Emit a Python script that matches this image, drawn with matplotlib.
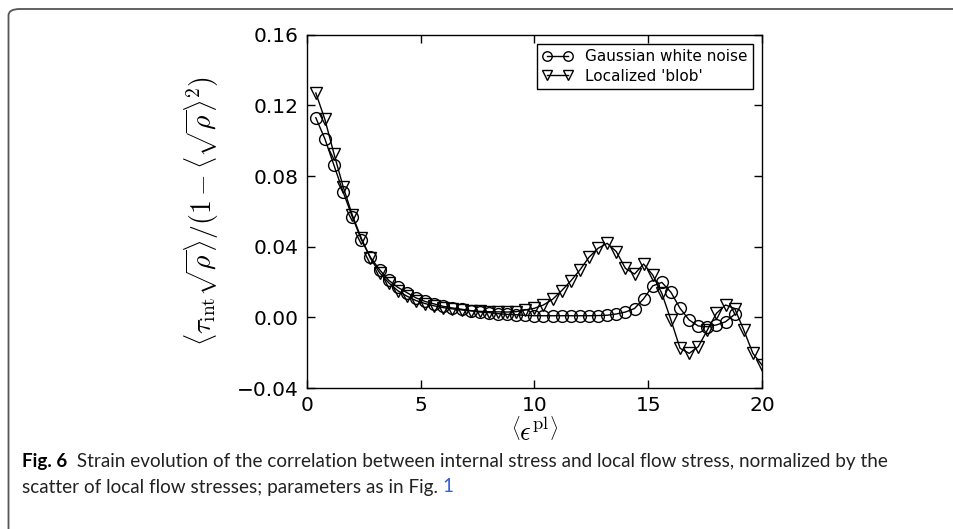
import matplotlib
matplotlib.use("Agg")
import matplotlib.pyplot as plt
from matplotlib import font_manager
from matplotlib.patches import FancyBboxPatch
import numpy as np

# ---------------- data ----------------
x_gauss = [0.4, 0.8, 1.2, 1.6, 2.0, 2.4, 2.8, 3.2, 3.6, 4.0,
           4.4, 4.8, 5.2, 5.6, 6.0, 6.4, 6.8, 7.2, 7.6, 8.0,
           8.4, 8.8, 9.2, 9.6, 10.0, 10.4, 10.8, 11.2, 11.6, 12.0,
           12.4, 12.8, 13.2, 13.6, 14.0, 14.4, 14.8, 15.2, 15.6, 16.0,
           16.4, 16.8, 17.2, 17.6, 18.0, 18.4, 18.8]
y_gauss = [0.113, 0.101, 0.086, 0.071, 0.057, 0.044, 0.034, 0.027, 0.021, 0.017,
           0.014, 0.011, 0.009, 0.0076, 0.0062, 0.0053, 0.0046, 0.0038, 0.0030, 0.0027,
           0.0021, 0.0017, 0.0015, 0.0011, 0.0009, 0.0009, 0.0009, 0.0009, 0.0009, 0.0009,
           0.0009, 0.0010, 0.0012, 0.0019, 0.0030, 0.0050, 0.0105, 0.0178, 0.0198, 0.0142,
           0.0051, -0.0015, -0.0049, -0.0053, -0.0043, -0.0025, 0.0017]

x_blob = [0.4, 0.8, 1.2, 1.6, 2.0, 2.4, 2.8, 3.2, 3.6, 4.0,
          4.4, 4.8, 5.2, 5.6, 6.0, 6.4, 6.8, 7.2, 7.6, 8.0,
          8.4, 8.8, 9.2, 9.6, 10.0, 10.4, 10.8, 11.2, 11.6, 12.0,
          12.4, 12.8, 13.2, 13.6, 14.0, 14.4, 14.8, 15.2, 15.6, 16.0,
          16.4, 16.8, 17.2, 17.6, 18.0, 18.4, 18.8, 19.2, 19.6, 20.0]
y_blob = [0.127, 0.112, 0.0925, 0.074, 0.058, 0.0447, 0.0334, 0.0253, 0.0196, 0.0151,
          0.012, 0.0095, 0.0078, 0.0065, 0.0055, 0.0048, 0.0042, 0.0037, 0.0034, 0.0032,
          0.0031, 0.0030, 0.0032, 0.0042, 0.0051, 0.0070, 0.0102, 0.0151, 0.0206, 0.0268,
          0.0340, 0.0391, 0.0419, 0.0372, 0.0277, 0.0245, 0.0302, 0.0240, 0.0136, -0.0015,
          -0.0175, -0.0204, -0.0166, -0.0072, 0.0023, 0.0070, 0.0050, -0.0072, -0.0204, -0.027]

label_gauss = "Gaussian white noise"
label_blob = "Localized 'blob'"

x_ticks = [0, 5, 10, 15, 20]
x_ticklabels = ["0", "5", "10", "15", "20"]
y_ticks = [-0.04, 0.0, 0.04, 0.08, 0.12, 0.16]
y_ticklabels = ["\u22120.04", "0.00", "0.04", "0.08", "0.12", "0.16"]

xlabel = r"$\left\langle\epsilon^{\rm pl}\right\rangle$"
ylabel = r"$\left\langle\tau_{\rm int}\sqrt{\rho}\right\rangle/(1-\left\langle\sqrt{\rho}\right\rangle^2)$"

caption_bold = "Fig. 6"
caption_line1 = "  Strain evolution of the correlation between internal stress and local flow stress, normalized by the"
caption_line2 = "scatter of local flow stresses; parameters as in Fig. "
caption_link = "1"

# ---------------- figure ----------------
plt.rcParams["mathtext.fontset"] = "cm"
W, H = 954, 529
fig = plt.figure(figsize=(W / 100, H / 100), dpi=100)
fig.patch.set_facecolor("white")

# outer rounded frame (clipped by image edges on right/bottom)
frame = FancyBboxPatch((8.5 / W, -60 / H), (W + 200) / W, (H - 9 + 60) / H,
                       boxstyle="round,pad=0,rounding_size=0.012",
                       transform=fig.transFigure, facecolor="none",
                       edgecolor="#555555", linewidth=1.3, clip_on=False)
fig.patches.append(frame)

left, right = 306.7 / W, 762.0 / W
top, bottom = 1 - 34.7 / H, 1 - 388.0 / H
ax = fig.add_axes([left, bottom, right - left, top - bottom])

ax.plot(x_gauss, y_gauss, color="black", lw=1.0, marker="o", markersize=8.5,
        markerfacecolor="none", markeredgecolor="black", markeredgewidth=1.0,
        label=label_gauss)
ax.plot(x_blob, y_blob, color="black", lw=1.0, marker="v", markersize=9,
        markerfacecolor="none", markeredgecolor="black", markeredgewidth=1.0,
        label=label_blob)

ax.set_xlim(0, 20)
ax.set_ylim(-0.04, 0.16)
ax.set_xticks(x_ticks)
ax.set_xticklabels(x_ticklabels)
ax.set_yticks(y_ticks)
ax.set_yticklabels(y_ticklabels)
ax.tick_params(direction="in", top=True, right=True, length=6, width=1,
               labelsize=14.5, pad=6, colors="black")
for s in ax.spines.values():
    s.set_linewidth(1.0)

ax.set_xlabel(xlabel, fontsize=19, labelpad=2)
ax.set_ylabel(ylabel, fontsize=20, labelpad=12)

leg = ax.legend(loc="upper right", numpoints=2, fontsize=11, frameon=True,
                fancybox=False, edgecolor="black", framealpha=1,
                borderaxespad=0.6, handlelength=2.0, handletextpad=0.8,
                borderpad=0.35, labelspacing=0.3, markerscale=0.8)
leg.get_frame().set_linewidth(1.0)

# caption
available = {f.name for f in font_manager.fontManager.ttflist}
cap_font = "Liberation Sans Narrow" if "Liberation Sans Narrow" in available else "Lato"
cap_size = 13.6
y1, y2 = 1 - 462 / H, 1 - 487 / H
t1 = fig.text(22 / W, y1, caption_bold, fontsize=cap_size, fontweight="bold",
              family=cap_font, va="center", ha="left")
fig.canvas.draw()
bb = t1.get_window_extent()
fig.text(bb.x1 / W, y1, caption_line1, fontsize=cap_size, family=cap_font,
         va="center", ha="left", color="#222222")
t3 = fig.text(22 / W, y2, caption_line2, fontsize=cap_size, family=cap_font,
              va="center", ha="left", color="#222222")
fig.canvas.draw()
bb3 = t3.get_window_extent()
fig.text(bb3.x1 / W, y2, caption_link, fontsize=cap_size, family=cap_font,
         va="center", ha="left", color="#3a5fcd")

fig.savefig("out.png", dpi=100, facecolor="white")
